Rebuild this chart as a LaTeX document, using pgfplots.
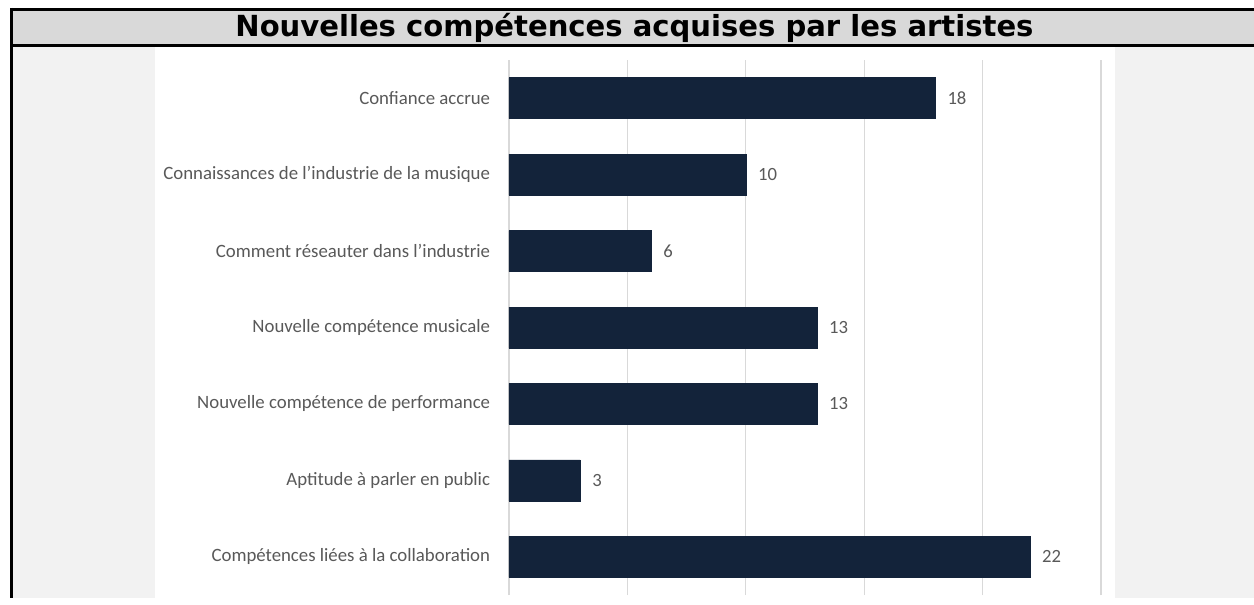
\documentclass[border=0pt]{standalone}
\usepackage{pgfplots}
\pgfplotsset{compat=1.18}
\usepackage{fontspec}
\setmainfont{Carlito}
\newfontfamily\titlefont{DejaVu Sans}
\definecolor{barcol}{HTML}{13233A}
\definecolor{titlebg}{HTML}{D9D9D9}
\definecolor{sidebg}{HTML}{F2F2F2}
\definecolor{gridc}{HTML}{D9D9D9}
\definecolor{labc}{HTML}{595959}
\begin{document}
\begin{tikzpicture}
\begin{scope}[x=0.75pt,y=-0.75pt]
\useasboundingbox (0,0) rectangle (1254,598);
\fill[white] (0,0) rectangle (1254,598);
\fill[titlebg] (11,9) rectangle (1254,45);
\fill[sidebg] (11,45) rectangle (1254,598);
\fill[white] (155,47) rectangle (1115,598);
\draw[line width=2.25pt] (11.5,9.5) -- (1254,9.5);
\draw[line width=2.25pt] (11.5,45.5) -- (1254,45.5);
\draw[line width=2.25pt] (11.5,8) -- (11.5,598);
\node[font=\titlefont\bfseries\fontsize{21.8}{24}\selectfont, text=black, inner sep=0pt] at (634.5,28) {Nouvelles compétences acquises par les artistes};
\end{scope}
\begin{axis}[
  at={(509*0.75pt,-60*0.75pt)}, anchor=north west,
  scale only axis, width=444pt, height=401.25pt,
  xbar, bar width=30.75pt,
  xmin=0, xmax=25, ymin=-0.5, ymax=6.5,
  axis line style={draw=none},
  xtick={0,5,10,15,20,25}, xticklabels={},
  major tick length=0pt,
  xmajorgrids, grid style={color=gridc, line width=0.9pt},
  ytick={0,1,2,3,4,5,6},
  yticklabels={Compétences liées à la collaboration, Aptitude à parler en public, Nouvelle compétence de performance, Nouvelle compétence musicale, Comment réseauter dans l’industrie, Connaissances de l’industrie de la musique, Confiance accrue},
  yticklabel style={font=\fontsize{14.1}{16}\selectfont, text=labc, anchor=east, inner sep=0pt, xshift=-14pt},
  /pgf/number format/assume math mode=true,
  nodes near coords,
  every node near coord/.append style={font=\fontsize{14}{16}\selectfont, text=labc, anchor=west, inner sep=0pt, xshift=9pt},
]
\addplot[fill=barcol, draw=barcol] coordinates {(22,0) (3,1) (13,2) (13,3) (6,4) (10,5) (18,6)};
\end{axis}
\end{tikzpicture}
\end{document}
